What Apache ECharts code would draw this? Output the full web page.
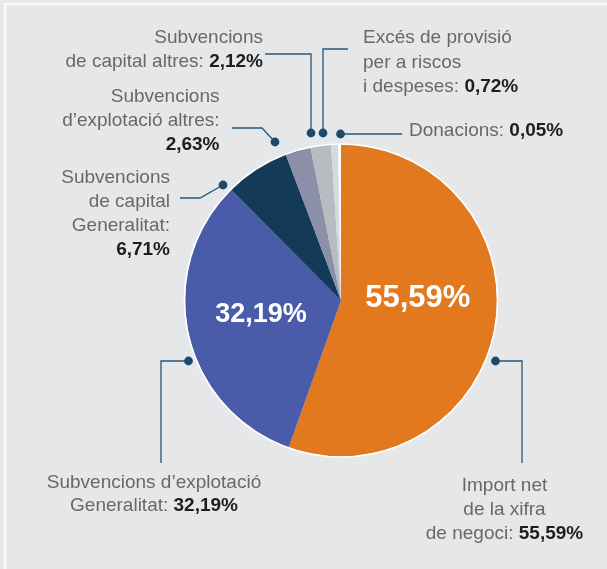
<!DOCTYPE html>
<html>
<head>
<meta charset="utf-8">
<script src="https://cdn.jsdelivr.net/npm/echarts@6/dist/echarts.min.js"></script>
<style>
  html, body { margin: 0; padding: 0; background: #e6e7e9; }
  #chart { width: 607px; height: 569px; }
</style>
</head>
<body>
<div id="chart"></div>
<script>
// categories (line breaks as in the printed labels)
const categories = [
  "Import net\nde la xifra\nde negoci",
  "Subvencions d’explotació\nGeneralitat",
  "Subvencions\nde capital\nGeneralitat",
  "Subvencions\nd’explotació altres",
  "Subvencions\nde capital altres",
  "Excés de provisió\nper a riscos\ni despeses",
  "Donacions"
];
const values = [55.59, 32.19, 6.71, 2.63, 2.12, 0.72, 0.05];
const colors = ["#e2791e", "#4a5ca9", "#133a56", "#8b8fa7", "#b9bbc2", "#d8d9dc", "#ffffff"];

const FONT = '"Liberation Sans", Arial, sans-serif';
const LINE = "#24577b";

// callouts: text anchor + leader line, one per slice
const callouts = [
  { sep: ": ", x: 504.5, y: 474, align: "center", lh: 24, pts: [[495.5, 361], [522, 361], [522, 463]] },
  { sep: ": ", x: 154, y: 471, align: "center", lh: 23.5, pts: [[188.5, 361], [161, 361], [161, 463]] },
  { sep: ":\n", x: 170, y: 166, align: "right", lh: 24, pts: [[223, 185], [200, 198], [180, 198]] },
  { sep: ":\n", x: 219.5, y: 85, align: "right", lh: 24, pts: [[275, 142], [262, 128], [232, 128]] },
  { sep: ": ", x: 263, y: 26, align: "right", lh: 24, pts: [[311, 133], [311, 54], [265, 54]] },
  { sep: ": ", x: 363, y: 26, align: "left", lh: 24.5, pts: [[323, 133], [323, 49], [348, 49]] },
  { sep: ": ", x: 409, y: 119, align: "left", lh: 24, pts: [[340.5, 134], [402, 134]] }
];

const fmt = v => v.toFixed(2).replace(".", ",") + "%";

let myChart = echarts.init(document.getElementById("chart"));

let graphics = [
  {
    type: "rect",
    shape: { x: 5, y: 4, width: 700, height: 700 },
    style: { fill: "none", stroke: "#fbfbfb", lineWidth: 2.5 },
    silent: true
  }
];

callouts.forEach((c, i) => {
  graphics.push({
    type: "polyline",
    shape: { points: c.pts },
    style: { stroke: LINE, lineWidth: 1.3, fill: "none" },
    silent: true
  });
  graphics.push({
    type: "circle",
    shape: { cx: c.pts[0][0], cy: c.pts[0][1], r: 4.4 },
    style: { fill: "#1d4a6c" },
    silent: true
  });
  graphics.push({
    type: "text",
    x: c.x,
    y: c.y,
    style: {
      text: categories[i] + c.sep + "{v|" + fmt(values[i]) + "}",
      font: "19px " + FONT,
      fill: "#686868",
      align: c.align,
      verticalAlign: "top",
      lineHeight: c.lh,
      rich: {
        v: { font: "bold 19px " + FONT, fill: "#1e1e1e", lineHeight: c.lh }
      }
    },
    silent: true
  });
});

let insideLabel = {
  0: { fontSize: 31, offset: [-3, -16] },
  1: { fontSize: 27, offset: [-1, -4] }
};

let option = {
  backgroundColor: "#e6e7e9",
  animation: false,
  graphic: graphics,
  series: [
    {
      type: "pie",
      center: [341, 300.5],
      radius: 156,
      startAngle: 90,
      clockwise: true,
      minAngle: 1.1,
      silent: true,
      labelLine: { show: false },
      data: values.map((v, i) => ({
        name: categories[i].replace(/\n/g, " "),
        value: v,
        itemStyle: { color: colors[i] },
        label: insideLabel[i]
          ? {
              show: true,
              position: "inside",
              formatter: () => fmt(v),
              color: "#fff",
              fontWeight: "bold",
              fontFamily: FONT,
              fontSize: insideLabel[i].fontSize,
              offset: insideLabel[i].offset
            }
          : { show: false }
      }))
    },
    {
      // white outline round the pie
      type: "pie",
      center: [341, 300.5],
      radius: 156.5,
      silent: true,
      label: { show: false },
      labelLine: { show: false },
      data: [{ value: 1, itemStyle: { color: "transparent", borderColor: "#fff", borderWidth: 1.6 } }]
    }
  ]
};
myChart.setOption(option, true);

window.addEventListener("resize", () => {
  myChart.resize();
});
</script>
</body>
</html>
